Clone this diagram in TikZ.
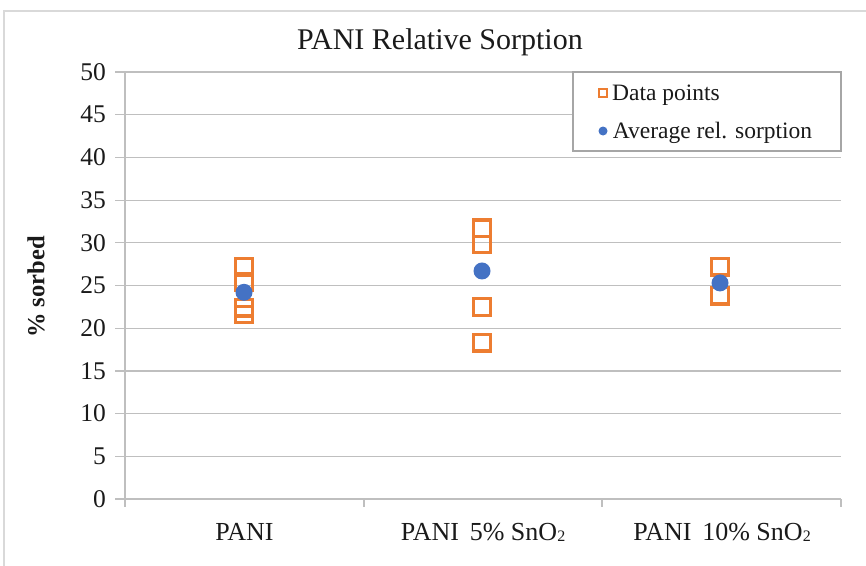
\documentclass[tikz,border=0pt]{standalone}
\usepackage{fontspec}
\setmainfont{Liberation Serif}
\usepackage{xcolor}
\definecolor{Ink}{HTML}{1A1A1A}
\definecolor{Grid}{HTML}{BFBFBF}
\definecolor{Frame}{HTML}{D9D9D9}
\definecolor{LegendRule}{HTML}{A6A6A6}
\definecolor{Orange}{HTML}{ED7D31}
\definecolor{Blue}{HTML}{4472C4}
\usepackage{tikz}
\usetikzlibrary{positioning}
\newcommand{\subtwo}{\raisebox{-1.5pt}{\fontsize{16}{16}\selectfont 2}}
\tikzset{
  gridline/.style={draw=Grid,line width=1.2pt},
  ticklab/.style={anchor=east,text=Ink,font=\fontsize{25.5}{25}\selectfont,inner sep=0pt},
  catlab/.style={text=Ink,font=\fontsize{26}{26}\selectfont,inner sep=0pt},
  datapt/.style={draw=Orange,line width=3.2pt,minimum size=16.5pt,inner sep=0pt,rectangle},
  avgpt/.style={fill=Blue,circle,minimum size=17pt,inner sep=0pt},
  legbox/.style={draw=LegendRule,fill=white,line width=1.2pt},
  legtext/.style={anchor=west,text=Ink,font=\fontsize{23.5}{24}\selectfont,inner sep=0pt}
}

\begin{document}
\begin{tikzpicture}[x=1pt,y=-1pt]
\useasboundingbox (0,0) rectangle (866,565);
% chart frame
\draw[Frame,line width=1.2pt] (4,11) rectangle (900,600);
\node[text=Ink,font=\fontsize{30}{30}\selectfont,inner sep=0pt] (title) at (440,42) {PANI Relative Sorption};
\node[rotate=90,text=Ink,font=\fontsize{24.5}{24}\selectfont\bfseries,inner sep=0pt] (ylab) at (36,287) {\% sorbed};
\begin{scope}[shift={(0,499)},y=8.54pt]
  % grid and tick labels
  \foreach \v in {0,5,...,50}{
    \draw[gridline] (115,\v) -- (841,\v);
    \node[ticklab] (t\v) at (106,\v) {\v};
  }
  \draw[gridline] (125,0) -- (125,50);
  \foreach \x in {125,364,602,841}
    \draw[gridline] (\x,0) -- (\x,-0.95);
  % category labels
  \node[catlab] (cat1) at (244.5,-3.9) {PANI};
  \node[catlab] (cat2) at (483,-3.9) {PANI\, 5\% SnO\subtwo};
  \node[catlab] (cat3) at (722,-3.9) {PANI\, 10\% SnO\subtwo};
  % data points
  \foreach \v [count=\i] in {27.2,25.4,22.4,21.6}
    \node[datapt] (pani\i) at (244,\v) {};
  \foreach \v [count=\i] in {31.7,29.8,22.5,18.3}
    \node[datapt] (five\i) at (482,\v) {};
  \foreach \v [count=\i] in {27.2,23.8}
    \node[datapt] (ten\i) at (720,\v) {};
  % averages
  \node[avgpt] (avgpani) at (244,24.2) {};
  \node[avgpt] (avgfive) at (482,26.7) {};
  \node[avgpt] (avgten) at (720,25.3) {};
\end{scope}
% legend
\draw[legbox] (573,72) rectangle (841,151);
\node[datapt,minimum size=7.5pt,line width=2.4pt] (legsq) at (603,93) {};
\node[legtext,right=4pt of legsq,yshift=-2pt] (legdata) {Data points};
\node[avgpt,minimum size=9pt] (legdot) at (603,131) {};
\node[legtext,right=5pt of legdot,yshift=-2pt] (legavg) {Average rel. sorption};
\end{tikzpicture}
\end{document}
